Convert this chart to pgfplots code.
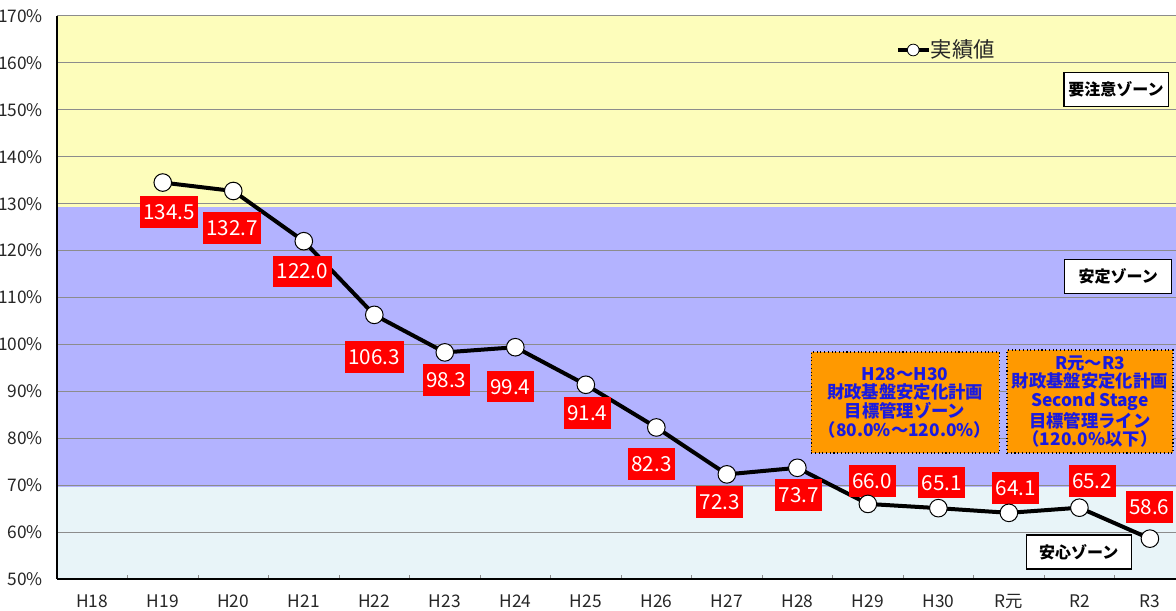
\documentclass[border=0pt]{standalone}
\usepackage{pgfplots}
\pgfplotsset{compat=1.18}
\usepackage{fontspec}
\setmainfont{Noto Sans CJK JP}

\definecolor{zoneY}{HTML}{FDFDBB}
\definecolor{zoneP}{HTML}{B3B3FF}
\definecolor{zoneB}{HTML}{E8F4F8}
\definecolor{boxO}{HTML}{FF9900}
\definecolor{gridc}{HTML}{8C8C8C}
\definecolor{boxtext}{HTML}{1A1AE0}

% red value label, white digits
\newcommand{\vlab}[3]{\node[fill=red,text=white,font=\fontsize{15.5}{15.5}\selectfont,
  inner xsep=2.6pt,inner ysep=0pt,minimum height=23.5pt] at (axis cs:#1,#2) {#3};}
% zone name box
\newcommand{\zlab}[4]{\node[draw=black,line width=0.8pt,fill=white,
  font=\bfseries\fontsize{12}{12}\selectfont,minimum width=#3,minimum height=25.5pt]
  at (axis cs:#1,#2) {#4};}

\begin{document}
\begin{tikzpicture}
\begin{axis}[
  set layers,
  scale only axis, width=839.25pt, height=422.25pt,
  xmin=-0.5, xmax=15.37, ymin=50, ymax=170,
  axis x line*=bottom, axis y line*=left,
  axis line style={-},
  x axis line style={line width=1.5pt},
  y axis line style={line width=1.1pt},
  ytick={50,60,...,170},
  yticklabels={50\%,60\%,70\%,80\%,90\%,100\%,110\%,120\%,130\%,140\%,150\%,160\%,170\%},
  ymajorgrids, major grid style={gridc,line width=0.75pt},
  xtick={0,...,15},
  xticklabels={H18,H19,H20,H21,H22,H23,H24,H25,H26,H27,H28,H29,H30,R元,R2,R3},
  minor xtick={0.5,1.5,...,14.5},
  major tick length=0pt, minor tick length=3pt, tick align=inside,
  minor tick style={gridc,line width=0.75pt},
  tick label style={font=\fontsize{13}{13}\selectfont, text=black!85},
  yticklabel style={xshift=-7pt},
  xticklabel style={yshift=-8pt},
  clip=false,
  legend style={at={(0.7498,0.9396)}, anchor=west, draw=none, fill=none,
    inner sep=0pt, nodes={inner sep=0.5pt}, font=\fontsize{16}{16}\selectfont,
    text=black!85},
]
\begin{pgfonlayer}{axis background}
\fill[zoneY] (axis cs:-0.5,129.3) rectangle (axis cs:15.37,170);
\fill[zoneP] (axis cs:-0.5,69.6) rectangle (axis cs:15.37,129.3);
\fill[zoneB] (axis cs:-0.5,50) rectangle (axis cs:15.37,69.6);
\end{pgfonlayer}

\addplot[black, line width=3pt, mark=*, mark size=6.6pt,
  mark options={fill=white, draw=black, line width=0.75pt},
  legend image code/.code={
    \draw[black,line width=2.4pt] (0pt,0pt) -- (23pt,0pt);
    \draw[black,fill=white,line width=0.6pt] (11.5pt,0pt) circle (4.4pt);}]
coordinates {
(1,134.5)(2,132.7)(3,122.0)(4,106.3)(5,98.3)(6,99.4)(7,91.4)(8,82.3)
(9,72.3)(10,73.7)(11,66.0)(12,65.1)(13,64.1)(14,65.2)(15,58.6)};
\addlegendentry{実績値}

\vlab{1.09}{128.2}{134.5}
\vlab{1.985}{124.8}{132.7}
\vlab{2.98}{115.6}{122.0}
\vlab{4.0}{97.3}{106.3}
\vlab{5.02}{92.4}{98.3}
\vlab{5.93}{91.0}{99.4}
\vlab{7.02}{85.4}{91.4}
\vlab{7.93}{74.5}{82.3}
\vlab{8.9}{66.4}{72.3}
\vlab{10.02}{67.9}{73.7}
\vlab{11.06}{70.9}{66.0}
\vlab{12.05}{70.5}{65.1}
\vlab{13.1}{69.4}{64.1}
\vlab{14.18}{70.9}{65.2}
\vlab{14.99}{65.35}{58.6}

\zlab{14.52}{154.4}{76.5pt}{要注意ゾーン}
\zlab{14.55}{114.5}{80pt}{安定ゾーン}
\zlab{13.99}{55.75}{78.75pt}{安心ゾーン}

\node[draw=black, dotted, line width=0.8pt, fill=boxO, text=boxtext, align=center,
  font=\bfseries\fontsize{13}{14}\selectfont, minimum width=141pt, minimum height=75.75pt]
  at (axis cs:11.527,87.62) {H28～H30\\財政基盤安定化計画\\目標管理ゾーン\\（80.0\%～120.0\%）};
\node[draw=black, dotted, line width=0.8pt, fill=boxO, text=boxtext, align=center,
  font=\bfseries\fontsize{13}{14}\selectfont, minimum width=124.5pt, minimum height=77.25pt]
  at (axis cs:14.15,87.83) {R元～R3\\財政基盤安定化計画\\Second Stage\\目標管理ライン\\（120.0\%以下）};
\end{axis}
\pgfresetboundingbox
\path ([shift={(-42.75pt,-24pt)}]current axis.south west) rectangle
  ([shift={(0pt,12pt)}]current axis.north east);
\end{tikzpicture}
\end{document}
